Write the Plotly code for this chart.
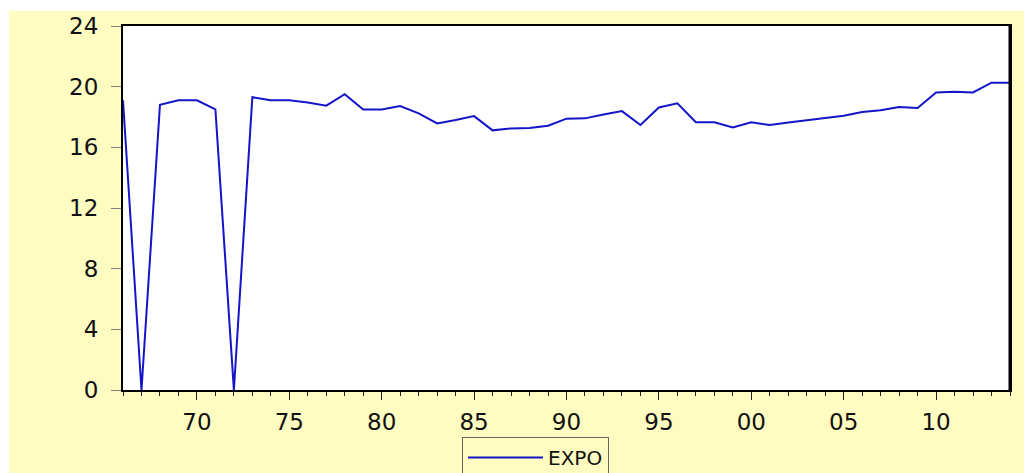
import plotly.graph_objects as go

years = list(range(1966, 2015))
expo = [19.1, 0, 18.8, 19.1, 19.1, 18.5, 0, 19.3, 19.1, 19.1,
        18.95, 18.75, 19.5, 18.5, 18.5, 18.72, 18.24, 17.58, 17.8, 18.06,
        17.12, 17.25, 17.27, 17.42, 17.89, 17.91, 18.17, 18.39, 17.47, 18.63,
        18.9, 17.65, 17.65, 17.31, 17.65, 17.47, 17.63, 17.78, 17.93, 18.08,
        18.33, 18.44, 18.66, 18.59, 19.62, 19.67, 19.62, 20.26, 20.26]
x_tickvals = [1970, 1975, 1980, 1985, 1990, 1995, 2000, 2005, 2010]
x_ticktext = ["70", "75", "80", "85", "90", "95", "00", "05", "10"]
y_tickvals = [0, 4, 8, 12, 16, 20, 24]

W, H = 1024, 473
ML, MR, MT, MB = 123, 14, 26, 83
PW, PH = W - ML - MR, H - MT - MB
YELLOW = "#FFFCC2"
FONT = "DejaVu Sans"


def px_x(p):
    return (p - ML) / PW


def px_y(p):
    return (H - MB - p) / PH


fig = go.Figure()
fig.add_trace(go.Scatter(x=years, y=expo, mode="lines", name="EXPO",
                         line=dict(color="#1414C8", width=2)))

fig.update_layout(
    width=W, height=H,
    margin=dict(l=ML, r=MR, t=MT, b=MB, pad=0, autoexpand=False),
    paper_bgcolor=YELLOW, plot_bgcolor="white",
    font=dict(family=FONT, size=23, color="#111111"),
    showlegend=True,
    legend=dict(xref="container", yref="container",
                x=462 / W, y=(H - 437) / H, xanchor="left", yanchor="top",
                orientation="h", bgcolor=YELLOW, bordercolor="#666666",
                borderwidth=1, font=dict(family=FONT, size=20, color="#111111"),
                itemwidth=75),
    xaxis=dict(range=[1966, 2014], tickmode="array", tickvals=x_tickvals,
               ticktext=x_ticktext, ticks="outside", ticklen=8, tickwidth=1,
               tickcolor="#222222", showgrid=False, zeroline=False,
               showline=True, linecolor="black", linewidth=2, mirror=True,
               ticklabelstandoff=2,
               minor=dict(tickmode="linear", tick0=1966, dtick=1,
                          ticks="outside", ticklen=4, tickcolor="#222222",
                          showgrid=False)),
    yaxis=dict(range=[0, 24], tickmode="array", tickvals=y_tickvals,
               ticks="outside", ticklen=10, tickwidth=1, tickcolor="#808080",
               showgrid=False, zeroline=False, showline=True,
               linecolor="black", linewidth=2, mirror=True,
               ticklabelstandoff=8),
    shapes=[
        dict(type="rect", xref="paper", yref="paper", x0=px_x(0), x1=px_x(9),
             y0=px_y(H), y1=px_y(0), fillcolor="white", line=dict(width=0),
             layer="below"),
        dict(type="rect", xref="paper", yref="paper", x0=px_x(0), x1=px_x(W),
             y0=px_y(11), y1=px_y(0), fillcolor="white", line=dict(width=0),
             layer="below"),
        dict(type="line", xref="paper", yref="paper", x0=1, x1=1,
             y0=0, y1=1, line=dict(color="black", width=3)),
    ],
)

fig.write_html("out.html", config={"displayModeBar": False},
               post_script="document.body.style.margin='0px';"
                           "document.body.style.overflow='hidden';")
